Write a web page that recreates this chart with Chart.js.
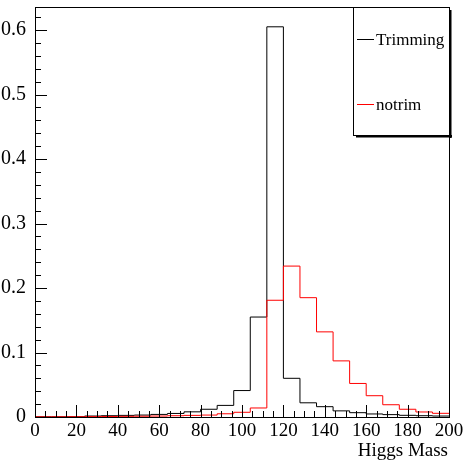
<!DOCTYPE html>
<html>
<head>
<meta charset="utf-8">
<script src="https://cdn.jsdelivr.net/npm/chart.js@4/dist/chart.umd.min.js"></script>
<style>
    html, body { margin: 0; padding: 0; background: #fff; }
    #wrap { width: 465px; height: 462px; }
</style>
</head>
<body>
<div id="wrap"><canvas id="myChart"></canvas></div>
<script>
// bin edges of the Higgs mass histogram (8 GeV bins)
const binEdges = [0, 8, 16, 24, 32, 40, 48, 56, 64, 72, 80, 88, 96, 104, 112, 120, 128, 136, 144, 152, 160, 168, 176, 184, 192, 200];
const trimming = [0.0003, 0.0003, 0.0004, 0.0015, 0.002, 0.0025, 0.003, 0.004, 0.0055, 0.008, 0.012, 0.018, 0.041, 0.155, 0.605, 0.060, 0.022, 0.016, 0.0095, 0.0067, 0.0047, 0.0037, 0.0026, 0.002, 0.0015];
const notrim = [0.0002, 0.0003, 0.0004, 0.0006, 0.0008, 0.001, 0.0012, 0.0015, 0.002, 0.0025, 0.003, 0.005, 0.0073, 0.014, 0.181, 0.234, 0.185, 0.132, 0.087, 0.052, 0.033, 0.019, 0.012, 0.0078, 0.0057];
const xTicks = [0, 20, 40, 60, 80, 100, 120, 140, 160, 180, 200];
const yTicks = [0, 0.1, 0.2, 0.3, 0.4, 0.5, 0.6];

const fontFamily = "'Liberation Serif', 'Times New Roman', serif";

const histPoints = (vals) => {
    let pts = vals.map((v, i) => ({x: binEdges[i], y: v}))
    pts.push({x: binEdges[vals.length], y: vals[vals.length - 1]})
    return pts
}

// ROOT style frame, inner ticks, legend box and axis title
const rootStyle = {
    id: 'rootStyle',
    afterDatasetsDraw(chart) {
        const {ctx, chartArea: a, scales: {x, y}} = chart
        ctx.save()
        ctx.strokeStyle = '#000'
        ctx.lineWidth = 1
        ctx.beginPath()
        // x ticks: majors from xTicks, 4 minor divisions
        for (let i = 0; i < xTicks.length; i++) {
            let px = Math.round(x.getPixelForValue(xTicks[i])) + 0.5
            ctx.moveTo(px, a.bottom)
            ctx.lineTo(px, a.bottom - 12)
            if (i < xTicks.length - 1) {
                let step = (xTicks[i + 1] - xTicks[i]) / 4
                for (let k = 1; k < 4; k++) {
                    let mp = Math.round(x.getPixelForValue(xTicks[i] + k * step)) + 0.5
                    ctx.moveTo(mp, a.bottom)
                    ctx.lineTo(mp, a.bottom - 6)
                }
            }
        }
        // y ticks: majors from yTicks, 5 minor divisions
        for (let i = 0; i < yTicks.length; i++) {
            let py = Math.round(y.getPixelForValue(yTicks[i])) + 0.5
            ctx.moveTo(a.left, py)
            ctx.lineTo(a.left + 12, py)
            let step = 0.1 / 5
            for (let k = 1; k < 5; k++) {
                let v = yTicks[i] + k * step
                if (v > y.max) break
                let mp = Math.round(y.getPixelForValue(v)) + 0.5
                ctx.moveTo(a.left, mp)
                ctx.lineTo(a.left + 6, mp)
            }
        }
        ctx.stroke()
        // frame
        ctx.strokeRect(a.left + 0.5, a.top + 0.5, a.right - a.left, a.bottom - a.top)

        // legend box with shadow
        const bx0 = 353, by0 = a.top, bx1 = a.right, by1 = 135
        ctx.fillStyle = '#fff'
        ctx.fillRect(bx0, by0, bx1 - bx0, by1 - by0)
        ctx.fillStyle = '#000'
        ctx.fillRect(bx1, by0 + 3, 2.5, by1 - by0)
        ctx.fillRect(bx0 + 3, by1, bx1 - bx0, 2.5)
        ctx.strokeRect(bx0 + 0.5, by0 + 0.5, bx1 - bx0, by1 - by0)

        const entries = chart.data.datasets.slice().sort((p, q) => q.order - p.order)
        const rowsY = [39, 104]
        ctx.font = '17px ' + fontFamily
        ctx.textAlign = 'left'
        ctx.textBaseline = 'alphabetic'
        entries.forEach((ds, i) => {
            ctx.strokeStyle = ds.borderColor
            ctx.beginPath()
            ctx.moveTo(357, rowsY[i] + 0.5)
            ctx.lineTo(374, rowsY[i] + 0.5)
            ctx.stroke()
            ctx.fillStyle = '#000'
            ctx.fillText(ds.label, 376, rowsY[i] + 6)
        })

        // x axis title, right aligned like ROOT
        ctx.font = '19px ' + fontFamily
        ctx.textAlign = 'right'
        ctx.fillText('Higgs Mass', 448, 456)
        ctx.restore()
    }
}

let ctx = document.getElementById('myChart')

new Chart(ctx, {
    type: 'line',
    data: {
        datasets: [{
            label: 'Trimming',
            data: histPoints(trimming),
            stepped: 'before',
            borderWidth: 1,
            borderColor: '#000000',
            pointRadius: 0,
            order: 2
        },
        {
            label: 'notrim',
            data: histPoints(notrim),
            stepped: 'before',
            borderWidth: 1,
            borderColor: '#ff0000',
            pointRadius: 0,
            order: 1
        }]
    },
    options: {
        responsive: true,
        maintainAspectRatio: false,
        animation: false,
        layout: {
            padding: {top: 7, right: 16, left: 0, bottom: 0}
        },
        scales: {
            x: {
                type: 'linear',
                min: 0,
                max: 200,
                grid: {display: false},
                border: {display: false},
                afterBuildTicks: (scale) => { scale.ticks = xTicks.map(v => ({value: v})) },
                afterFit: (scale) => {
                    scale.height = 45
                    scale.paddingLeft = 0
                    scale.paddingRight = 0
                },
                ticks: {
                    color: '#000',
                    padding: -3,
                    maxRotation: 0,
                    autoSkip: false,
                    font: {family: fontFamily, size: 19, lineHeight: 1}
                }
            },
            y: {
                min: 0,
                max: 0.6357,
                grid: {display: false},
                border: {display: false},
                afterBuildTicks: (scale) => { scale.ticks = yTicks.map(v => ({value: v})) },
                afterFit: (scale) => {
                    scale.width = 35
                    scale.paddingTop = 0
                    scale.paddingBottom = 0
                },
                ticks: {
                    color: '#000',
                    padding: 1,
                    autoSkip: false,
                    font: {family: fontFamily, size: 20}
                }
            }
        },
        plugins: {
            legend: {display: false},
            tooltip: {enabled: false}
        }
    },
    plugins: [rootStyle]
});
</script>
</body>
</html>
